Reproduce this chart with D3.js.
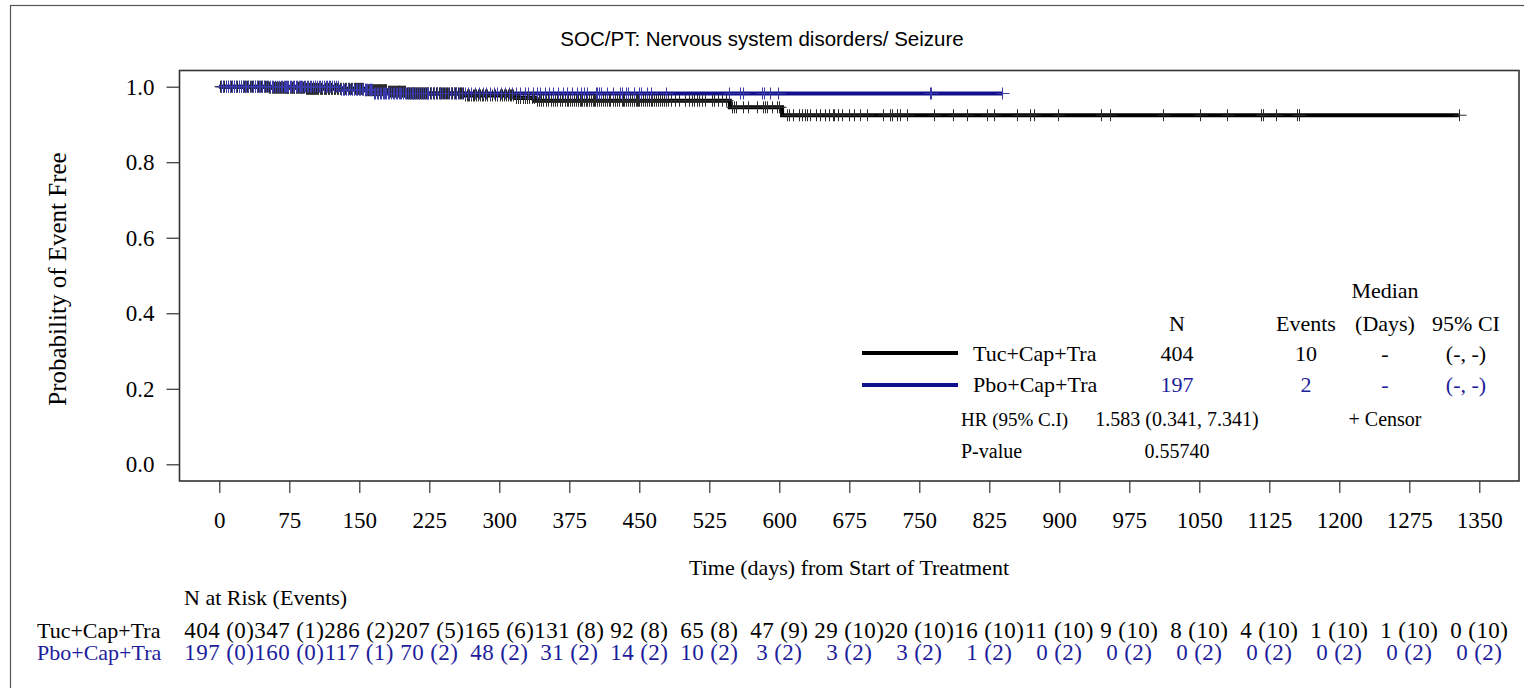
<!DOCTYPE html>
<html><head><meta charset="utf-8">
<script src="https://cdn.jsdelivr.net/npm/d3@7"></script>
<style>body{margin:0;background:#fff}svg{display:block}</style>
</head><body><svg id="chart" width="1524" height="688"></svg>
<script>
// ---------------- data ----------------
const titleText = "SOC/PT: Nervous system disorders/ Seizure";
const groupNames = ["Tuc+Cap+Tra", "Pbo+Cap+Tra"];
const xTickValues = [0,75,150,225,300,375,450,525,600,675,750,825,900,975,1050,1125,1200,1275,1350];
const yTickValues = [0.0,0.2,0.4,0.6,0.8,1.0];

// Kaplan-Meier steps (event day, survival after event)
const tucEventDays = [52, 92, 155, 180, 200, 262, 318, 338, 547, 603];
const tucSurv      = [0.9973, 0.9943, 0.9907, 0.9868, 0.9823, 0.9768, 0.9701, 0.9629, 0.9454, 0.9244];
const pboEventDays = [128, 165];
const pboSurv      = [0.992, 0.982];

// censored observations (days)
const tucCensor = [1,2,4,5,7,9,11,12,14,16,18,19,21,23,25,26,28,30,31,33,35,36,38,40,41,43,45,46,48,49,51,53,54,56,57,59,60,61,62,63,64,65,66,67,68,69,70,70,71,72,72,73,73,74,74,74,
 76,77,78,79,80,80,82,83,84,85,86,87,88,89,90,91,93,94,95,96,97,98,99,100,101,103,104,105,106,108,109,110,112,113,114,116,117,118,120,121,123,124,126,127,129,130,132,133,135,136,138,139,141,142,144,145,146,147,149,
 150,151,151,152,153,154,156,156,157,158,159,160,161,162,163,164,165,166,167,168,169,170,171,172,172,173,174,175,176,177,178,179,181,182,183,184,185,186,187,188,189,190,191,192,193,194,195,196,197,198,199,201,202,203,204,205,206,207,208,209,210,211,212,213,214,215,216,217,218,219,220,221,222,224,
 226,227,229,230,232,233,235,236,238,240,241,243,244,246,248,249,251,253,254,256,258,259,261,263,265,266,268,270,272,273,275,277,279,281,283,285,287,290,292,295,298,
 301,303,305,307,309,311,313,315,318,320,322,325,327,330,332,335,337,340,342,345,347,350,352,355,357,360,362,365,367,370,372,374,
 376,378,380,382,384,386,388,389,391,393,394,396,398,400,401,403,405,407,409,411,413,415,417,419,422,424,426,428,431,432,434,436,438,440,442,444,446,447,449,
 450,452,454,456,458,460,462,464,466,468,470,472,474,476,479,481,484,488,493,499,503,506,509,512,514,517,520,
 528,530,534,539,543,549,551,554,561,566,576,583,585,587,592,598,600,
 608,610,615,621,624,627,630,633,639,644,649,653,657,659,663,667,675,
 680,686,694,711,719,721,726,729,737,
 766,786,801,822,
 830,855,869,873,899,
 945,954,
 1011,
 1051,1080,1116,1118,
 1132,1155,1157,
 1328];
const pboCensor = [2,4,7,9,11,14,16,18,21,23,25,27,29,31,34,36,38,40,42,44,46,48,50,52,54,56,58,60,62,64,66,67,69,70,71,72,74,
 76,77,79,80,82,83,85,86,88,89,91,92,94,95,97,98,100,102,103,105,107,108,110,112,114,115,117,119,121,123,125,127,130,132,134,136,138,140,142,144,146,148,
 150,151,153,154,156,157,158,160,161,163,164,166,167,169,170,172,173,175,176,178,179,181,182,184,186,187,189,190,192,194,195,197,199,200,202,204,206,208,210,212,214,216,218,220,222,224,
 227,230,233,236,239,242,245,248,251,254,257,260,263,266,270,274,278,282,286,290,294,298,
 302,306,310,314,318,322,327,331,336,340,344,349,353,358,363,368,372,
 378,383,388,391,394,404,405,407,409,415,422,429,431,436,438,444,450,
 452,458,462,479,
 546,558,561,581,584,590,599,
 761,763,
 839];

// Number at risk table
const riskHeader = "N at Risk (Events)";
const tucAtRisk = [404,347,286,207,165,131,92,65,47,29,20,16,11,9,8,4,1,1,0];
const tucCumEvents = [0,1,2,5,6,8,8,8,9,10,10,10,10,10,10,10,10,10,10];
const pboAtRisk = [197,160,117,70,48,31,14,10,3,3,3,1,0,0,0,0,0,0,0];
const pboCumEvents = [0,0,1,2,2,2,2,2,2,2,2,2,2,2,2,2,2,2,2];

// Legend statistics
const legendHeaders = ["N","Events","(Days)","95% CI"];
const legendN = [404, 197];
const legendEvents = [10, 2];
const legendMedian = ["-", "-"];
const legendCI = ["(-, -)", "(-, -)"];
const hrLabel = "HR (95% C.I)";
const hrValue = "1.583 (0.341, 7.341)";
const pLabel = "P-value";
const pValue = "0.55740";
const censorLabel = "+ Censor";
const xAxisTitle = "Time (days) from Start of Treatment";
const yAxisTitle = "Probability of Event Free";

// ---------------- drawing ----------------
const BLACK = "#000000", BLUE = "#10108c", BLUETXT = "#1d1d9b";
const serif = "'Liberation Serif','Times New Roman',serif";
const sans = "'Liberation Sans',Arial,sans-serif";

const svg = d3.select("#chart");
const x = d3.scaleLinear().domain([0,1350]).range([219.3,1479.3]);
const y = d3.scaleLinear().domain([0,1]).range([464.3,86.7]);

// outer border
svg.append("rect").attr("x",10.5).attr("y",5.5).attr("width",1600).attr("height",800)
  .attr("fill","none").attr("stroke","#555").attr("stroke-width",1.2);

// title
svg.append("text").attr("x",762).attr("y",46).attr("text-anchor","middle")
  .attr("font-family",sans).attr("font-size",20.5).attr("fill","#000").text(titleText);

// plot frame
svg.append("rect").attr("x",179.5).attr("y",70.5).attr("width",1339.5).attr("height",410.5)
  .attr("fill","none").attr("stroke","#333").attr("stroke-width",1.6);

// y axis
const yAxis = svg.append("g").attr("transform","translate(179.5,0)")
  .call(d3.axisLeft(y).tickValues(yTickValues).tickFormat(d3.format(".1f")).tickSize(13).tickPadding(12));
yAxis.select(".domain").remove();
yAxis.selectAll("line").attr("stroke","#333").attr("stroke-width",1.2);
yAxis.selectAll("text").attr("font-family",serif).attr("font-size",23).attr("fill","#000");

// x axis
const xAxis = svg.append("g").attr("transform","translate(0,481)")
  .call(d3.axisBottom(x).tickValues(xTickValues).tickFormat(d3.format("d")).tickSize(12).tickPadding(19));
xAxis.select(".domain").remove();
xAxis.selectAll("line").attr("stroke","#333").attr("stroke-width",1.2);
xAxis.selectAll("text").attr("font-family",serif).attr("font-size",23).attr("fill","#000");

// axis titles
svg.append("text").attr("transform","translate(57,279) rotate(-90)").attr("text-anchor","middle")
  .attr("dy","0.35em").attr("font-family",serif).attr("font-size",25).text(yAxisTitle);
svg.append("text").attr("x",849).attr("y",575).attr("text-anchor","middle")
  .attr("font-family",serif).attr("font-size",22).text(xAxisTitle);

// KM curves
function kmPoints(evDays, surv, lastDay){
  const pts = [[0,1]];
  evDays.forEach((d,i)=>pts.push([d,surv[i]]));
  pts.push([lastDay, surv[surv.length-1]]);
  return pts;
}
function survAt(evDays, surv, t){
  let s = 1;
  evDays.forEach((d,i)=>{ if (d <= t) s = surv[i]; });
  return s;
}
const line = d3.line().x(d=>x(d[0])).y(d=>y(d[1])).curve(d3.curveStepAfter);
const series = [
  {ev:tucEventDays, s:tucSurv, c:tucCensor, color:BLACK, tick:"#2a2a2a"},
  {ev:pboEventDays, s:pboSurv, c:pboCensor, color:BLUE, tick:"#3a3aa8"}
];
series.forEach(g=>{
  svg.append("path").datum(kmPoints(g.ev,g.s,d3.max(g.c)))
    .attr("d",line).attr("fill","none").attr("stroke",g.color).attr("stroke-width",4);
});
series.forEach(g=>{
  svg.append("g").selectAll("path").data(g.c).join("path")
    .attr("d",d=>{const px=Math.round(x(d))+0.5, py=y(survAt(g.ev,g.s,d));
      return `M${px-6},${py}H${px+7}M${px},${py-6}V${py+6}`;})
    .attr("fill","none").attr("stroke",g.tick).attr("stroke-width",1);
});

// legend
const lg = svg.append("g").attr("font-family",serif).attr("font-size",22);
const colN = 1177, colE = 1306, colM = 1385, colCI = 1466;
lg.append("text").attr("x",colM).attr("y",298).attr("text-anchor","middle").text("Median");
[colN,colE,colM,colCI].forEach((cx,i)=>lg.append("text").attr("x",cx).attr("y",331).attr("text-anchor","middle").text(legendHeaders[i]));
const rowY = [361, 392], lineY = [353, 385];
groupNames.forEach((name,i)=>{
  const col = i===0 ? BLACK : BLUETXT;
  lg.append("line").attr("x1",862).attr("x2",958).attr("y1",lineY[i]).attr("y2",lineY[i])
    .attr("stroke", i===0?BLACK:BLUE).attr("stroke-width",4);
  lg.append("text").attr("x",973).attr("y",rowY[i]).text(name);
  lg.append("text").attr("x",colN).attr("y",rowY[i]).attr("text-anchor","middle").attr("fill",col).text(legendN[i]);
  lg.append("text").attr("x",colE).attr("y",rowY[i]).attr("text-anchor","middle").attr("fill",col).text(legendEvents[i]);
  lg.append("text").attr("x",colM).attr("y",rowY[i]).attr("text-anchor","middle").attr("fill",col).text(legendMedian[i]);
  lg.append("text").attr("x",colCI).attr("y",rowY[i]).attr("text-anchor","middle").attr("fill",col).text(legendCI[i]);
});
lg.append("text").attr("x",961).attr("y",426).attr("font-size",19).text(hrLabel);
lg.append("text").attr("x",colN).attr("y",426).attr("text-anchor","middle").attr("font-size",20).text(hrValue);
lg.append("text").attr("x",colM).attr("y",426).attr("text-anchor","middle").attr("font-size",20).text(censorLabel);
lg.append("text").attr("x",961).attr("y",458).attr("font-size",20).text(pLabel);
lg.append("text").attr("x",colN).attr("y",458).attr("text-anchor","middle").attr("font-size",20).text(pValue);

// risk table
const rt = svg.append("g").attr("font-family",serif).attr("font-size",22);
rt.append("text").attr("x",184).attr("y",605).text(riskHeader);
rt.append("text").attr("x",37).attr("y",638).text(groupNames[0]);
rt.append("text").attr("x",37).attr("y",660).attr("fill",BLUETXT).text(groupNames[1]);
rt.selectAll(".r1").data(xTickValues).join("text").attr("class","r1")
  .attr("x",d=>x(d)).attr("y",638).attr("text-anchor","middle").attr("font-size",23).attr("letter-spacing",0.4)
  .text((d,i)=>`${tucAtRisk[i]} (${tucCumEvents[i]})`);
rt.selectAll(".r2").data(xTickValues).join("text").attr("class","r2")
  .attr("x",d=>x(d)).attr("y",660).attr("text-anchor","middle").attr("font-size",23).attr("letter-spacing",0.4).attr("fill",BLUETXT)
  .text((d,i)=>`${pboAtRisk[i]} (${pboCumEvents[i]})`);
</script></body></html>
